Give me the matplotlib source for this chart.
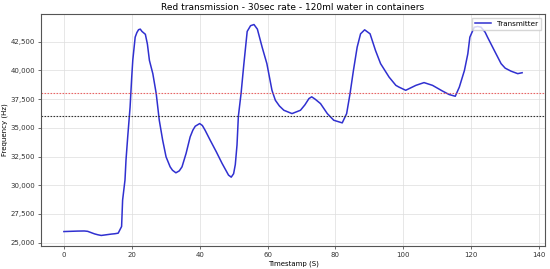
import matplotlib
matplotlib.use("Agg")
from matplotlib import pyplot as plt
from matplotlib.ticker import FuncFormatter

# readings
timestamps = [0, 2, 4, 6, 7, 8, 9, 10, 11, 12, 13, 14, 15, 16, 17, 17.3, 18, 18.3, 18.8,
              19.5, 20, 20.3, 21, 21.5, 22, 22.5, 23, 24, 24.6, 25.2, 26.2, 27.2, 28.1,
              29.1, 30.1, 31.3, 32, 33, 34, 34.8, 36, 37.2, 38, 38.7, 40, 40.8, 41.6,
              43.1, 44.9, 46.6, 48.5, 49.3, 50, 50.5, 51, 51.4, 52.2, 53, 54, 55, 56, 57,
              58.4, 59.8, 61.3, 62.3, 63.5, 64.8, 67.2, 69.7, 71, 72.2, 73, 74, 75.6,
              77.6, 79.5, 82, 83.3, 84.3, 85.3, 86.4, 87.4, 88.6, 90.2, 91.8, 93.3, 95.8,
              97.8, 98.7, 100.7, 103.7, 106.1, 108.6, 111.5, 113.5, 115.3, 116.5, 118,
              119, 119.6, 120.9, 121.9, 122.9, 124.1, 124.8, 126.8, 128.8, 130, 131.7,
              133.7, 135]
frequency = [25960, 25980, 26000, 26010, 25980, 25870, 25760, 25680, 25620, 25660, 25700,
             25740, 25770, 25820, 26400, 28700, 30450, 32200, 34200, 36800, 39500, 40900,
             42900, 43300, 43550, 43600, 43400, 43150, 42300, 40870, 39720, 37980, 35660,
             33920, 32470, 31600, 31300, 31080, 31250, 31600, 32770, 34210, 34800, 35140,
             35370, 35200, 34790, 33920, 32910, 31900, 30880, 30700, 31000, 31800, 33500,
             36000, 38000, 40500, 43400, 43900, 44000, 43600, 42030, 40590, 38270, 37400,
             36900, 36530, 36240, 36530, 37000, 37550, 37700, 37500, 37110, 36240, 35660,
             35430, 36240, 37980, 40000, 42030, 43190, 43540, 43190, 41740, 40590, 39420,
             38700, 38550, 38270, 38700, 38940, 38700, 38210, 37900, 37750, 38550, 40000,
             41450, 42900, 43770, 43830, 43770, 43330, 42900, 41740, 40590, 40200, 39940,
             39720, 39800]

red_level = 38000
black_level = 36000

fig = plt.figure(figsize=(5.5, 2.69), dpi=100)
ax = fig.add_axes([0.0745, 0.0855, 0.9165, 0.8625])

ax.plot(timestamps, frequency, color="#3030d0", linewidth=1.1, label="Transmitter")
ax.axhline(red_level, color="#e04040", alpha=0.8, linewidth=0.8, dashes=(1.5, 1.2))
ax.axhline(black_level, color="#333333", linewidth=0.8, dashes=(1.5, 1.2))

ax.set_title("Red transmission - 30sec rate - 120ml water in containers", fontsize=6.5, pad=3)
ax.set_xlabel("Timestamp (S)", fontsize=5, labelpad=2)
ax.set_ylabel("Frequency (Hz)", fontsize=5, labelpad=2)
ax.yaxis.set_major_formatter(FuncFormatter(lambda v, p: "{:,.0f}".format(v)))
ax.tick_params(labelsize=5, length=2, width=0.5, pad=2, colors="#333333")
ax.grid(True, color="#dddddd", linewidth=0.5)
for s in ax.spines.values():
    s.set_color("#555555")
    s.set_linewidth(0.8)

ax.legend(loc="upper right", fontsize=5.2, frameon=True, handlelength=2.2,
          borderpad=0.45, fancybox=False, edgecolor="#cccccc")

plt.savefig("out.png", dpi=100)
